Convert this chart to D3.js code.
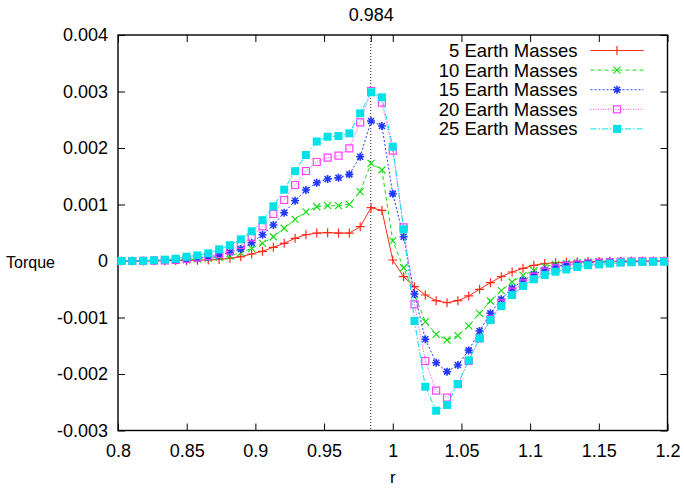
<!DOCTYPE html>
<html>
<head>
<meta charset="utf-8">
<script src="https://cdn.jsdelivr.net/npm/d3@7"></script>
<style>
  body { margin: 0; background: #fff; }
  text { font-family: "Liberation Sans", Arial, Helvetica, sans-serif; }
</style>
</head>
<body>
<div id="chart"></div>
<script>
// radius grid (r)
const rValues = [0.8025, 0.8104, 0.8183, 0.8262, 0.8341, 0.842, 0.8499, 0.8578, 0.8657, 0.8736,
    0.8815, 0.8894, 0.8973, 0.9052, 0.9131, 0.921, 0.9289, 0.9368, 0.9447, 0.9526,
    0.9605, 0.9684, 0.9763, 0.9842, 0.9921, 1.0, 1.0079, 1.0158, 1.0237, 1.0316,
    1.0395, 1.0474, 1.0553, 1.0632, 1.0711, 1.079, 1.0869, 1.0948, 1.1027, 1.1106,
    1.1185, 1.1264, 1.1343, 1.1422, 1.1501, 1.158, 1.1659, 1.1738, 1.1817, 1.1896, 1.1975];

// torque, in units of 0.001
const torque5 = [0, 0, 0.002, 0.003, 0.005, 0.007, 0.010, 0.014, 0.018, 0.028,
    0.047, 0.076, 0.124, 0.172, 0.242, 0.313, 0.402, 0.465, 0.495, 0.501,
    0.495, 0.495, 0.607, 0.943, 0.895, 0.018, -0.277, -0.454, -0.602, -0.702,
    -0.738, -0.702, -0.619, -0.501, -0.383, -0.277, -0.195, -0.130, -0.077, -0.045,
    -0.030, -0.022, -0.015, -0.010, -0.007, -0.005, -0.003, -0.002, -0.001, 0, 0];
const torque10 = [0, 0, 0.002, 0.004, 0.008, 0.012, 0.020, 0.032, 0.047, 0.065,
    0.088, 0.147, 0.224, 0.313, 0.430, 0.579, 0.738, 0.870, 0.961, 0.979,
    0.979, 1.003, 1.227, 1.729, 1.611, 0.357, -0.120, -0.590, -1.074, -1.300,
    -1.398, -1.322, -1.148, -0.926, -0.708, -0.525, -0.372, -0.254, -0.171, -0.100,
    -0.059, -0.041, -0.028, -0.018, -0.012, -0.008, -0.005, -0.003, -0.002, -0.001, 0];
const torque15 = [0, 0, 0.002, 0.005, 0.010, 0.016, 0.028, 0.048, 0.072, 0.100,
    0.154, 0.212, 0.324, 0.465, 0.637, 0.855, 1.067, 1.257, 1.386, 1.451,
    1.474, 1.534, 1.846, 2.478, 2.389, 1.192, 0.430, -0.584, -1.386, -1.800,
    -1.959, -1.841, -1.582, -1.239, -0.926, -0.678, -0.484, -0.348, -0.236, -0.159,
    -0.100, -0.065, -0.045, -0.030, -0.020, -0.014, -0.010, -0.007, -0.005, -0.003, -0.002];
const torque20 = [0, 0, 0.003, 0.006, 0.012, 0.020, 0.038, 0.060, 0.088, 0.124,
    0.182, 0.283, 0.419, 0.614, 0.832, 1.080, 1.345, 1.593, 1.752, 1.829,
    1.864, 1.995, 2.455, 3.009, 2.802, 1.952, 0.596, -0.766, -1.770, -2.295,
    -2.419, -2.180, -1.770, -1.369, -1.032, -0.749, -0.543, -0.395, -0.277, -0.189,
    -0.130, -0.088, -0.060, -0.040, -0.028, -0.020, -0.014, -0.010, -0.007, -0.005, -0.003];
const torque25 = [0, 0, 0.003, 0.012, 0.024, 0.040, 0.075, 0.100, 0.136, 0.206,
    0.280, 0.384, 0.525, 0.723, 0.967, 1.263, 1.590, 1.876, 2.115, 2.200,
    2.212, 2.260, 2.614, 2.986, 2.897, 2.023, 0.561, -1.062, -2.225, -2.649,
    -2.549, -2.177, -1.758, -1.369, -1.044, -0.796, -0.602, -0.442, -0.324, -0.248,
    -0.190, -0.150, -0.105, -0.075, -0.060, -0.045, -0.030, -0.022, -0.016, -0.014, -0.012];

const seriesNames = ["5 Earth Masses", "10 Earth Masses", "15 Earth Masses", "20 Earth Masses", "25 Earth Masses"];
const seriesValues = [torque5, torque10, torque15, torque20, torque25];

const xTicks = [0.8, 0.85, 0.9, 0.95, 1, 1.05, 1.1, 1.15, 1.2];
const xTickLabels = ["0.8", "0.85", "0.9", "0.95", "1", "1.05", "1.1", "1.15", "1.2"];
const yTicks = [-3, -2, -1, 0, 1, 2, 3, 4];
const yTickLabels = ["-0.003", "-0.002", "-0.001", "0", "0.001", "0.002", "0.003", "0.004"];
const markR = 0.984;

const MARGIN = { LEFT: 118, RIGHT: 16.5, TOP: 35, BOTTOM: 57.5 };
const WIDTH = 684 - MARGIN.LEFT - MARGIN.RIGHT;
const HEIGHT = 488 - MARGIN.TOP - MARGIN.BOTTOM;

const svg = d3.select("#chart").append("svg")
    .attr("width", 684)
    .attr("height", 488);
const g = svg.append("g")
    .attr("transform", `translate(${MARGIN.LEFT}, ${MARGIN.TOP})`);

const x = d3.scaleLinear().domain([0.8, 1.2]).range([0, WIDTH]);
const y = d3.scaleLinear().domain([-3, 4]).range([HEIGHT, 0]);

// styles per series
const styles = [
    { color: "#ff2a1a", dash: null, marker: "plus" },
    { color: "#16dd16", dash: "4,3", marker: "cross" },
    { color: "#2038ff", dash: "2,2", marker: "star" },
    { color: "#ff40ff", dash: "1,1.5", marker: "box" },
    { color: "#00e2e8", dash: "6,2,1.5,2", marker: "fbox" }
];

const markerPath = {
    plus: "M-4.5,0H4.5M0,-4.5V4.5",
    cross: "M-3.5,-3.5L3.5,3.5M-3.5,3.5L3.5,-3.5",
    star: "M-4,0H4M0,-4V4M-3,-3L3,3M-3,3L3,-3",
    box: "M-3.5,-3.5H3.5V3.5H-3.5Z",
    fbox: "M-4,-4H4V4H-4Z"
};

function drawMarker(sel, st) {
    sel.append("path")
        .attr("d", markerPath[st.marker])
        .attr("fill", st.marker === "fbox" ? st.color : "none")
        .attr("stroke", st.marker === "fbox" ? "none" : st.color)
        .attr("stroke-width", st.marker === "star" ? 1.6 : 1.2);
}

// axes (ticks pointing inwards)
const xAxis = g.append("g")
    .attr("transform", `translate(0, ${HEIGHT})`)
    .call(d3.axisBottom(x).tickValues(xTicks).tickFormat((d, i) => xTickLabels[i])
        .tickSizeInner(-7).tickSizeOuter(0).tickPadding(14));
const yAxis = g.append("g")
    .call(d3.axisLeft(y).tickValues(yTicks).tickFormat((d, i) => yTickLabels[i])
        .tickSizeInner(-7).tickSizeOuter(0).tickPadding(10));
const topAxis = g.append("g")
    .call(d3.axisTop(x).tickValues(xTicks.concat([markR])).tickFormat(d => d === markR ? String(markR) : "")
        .tickSizeInner(-7).tickSizeOuter(0).tickPadding(14));
const rightAxis = g.append("g")
    .attr("transform", `translate(${WIDTH}, 0)`)
    .call(d3.axisRight(y).tickValues(yTicks).tickFormat("")
        .tickSizeInner(-7).tickSizeOuter(0));

[xAxis, yAxis, topAxis, rightAxis].forEach(a => {
    a.select(".domain").remove();
    a.selectAll("line").attr("stroke", "#000");
    a.selectAll("text").style("font-size", "18px").attr("fill", "#000");
});

// vertical marker at r = 0.984
g.append("line")
    .attr("x1", x(markR)).attr("x2", x(markR))
    .attr("y1", 0).attr("y2", HEIGHT)
    .attr("stroke", "#222")
    .attr("stroke-width", 1)
    .attr("stroke-dasharray", "1,2");

// frame
g.append("rect")
    .attr("width", WIDTH).attr("height", HEIGHT)
    .attr("fill", "none").attr("stroke", "#000").attr("stroke-width", 1.4);

// series
const line = d3.line().x((d, i) => x(rValues[i])).y(d => y(d));
seriesValues.forEach((vals, s) => {
    const st = styles[s];
    const sg = g.append("g");
    sg.append("path")
        .datum(vals)
        .attr("d", line)
        .attr("fill", "none")
        .attr("stroke", st.color)
        .attr("stroke-width", 1)
        .attr("stroke-dasharray", st.dash);
    sg.selectAll(".pt")
        .data(vals)
        .join("g")
        .attr("class", "pt")
        .attr("transform", (d, i) => `translate(${x(rValues[i])}, ${y(d)})`)
        .each(function() { drawMarker(d3.select(this), st); });
});

// legend
const legend = svg.append("g");
seriesNames.forEach((name, s) => {
    const st = styles[s];
    const ly = 50.5 + s * 19.6;
    legend.append("text")
        .attr("x", 577.5).attr("y", ly)
        .attr("dy", "0.35em")
        .attr("text-anchor", "end")
        .style("font-size", "18.5px")
        .text(name);
    legend.append("line")
        .attr("x1", 590.5).attr("x2", 643.5)
        .attr("y1", ly).attr("y2", ly)
        .attr("stroke", st.color)
        .attr("stroke-width", 1)
        .attr("stroke-dasharray", st.dash);
    const mk = legend.append("g").attr("transform", `translate(617, ${ly})`);
    drawMarker(mk, st);
});

// axis titles
svg.append("text")
    .attr("x", 6).attr("y", 262)
    .attr("dy", "0.35em")
    .style("font-size", "16px")
    .text("Torque");
svg.append("text")
    .attr("x", MARGIN.LEFT + x(1)).attr("y", 477)
    .attr("dy", "0.35em")
    .attr("text-anchor", "middle")
    .style("font-size", "17px")
    .text("r");
</script>
</body>
</html>
